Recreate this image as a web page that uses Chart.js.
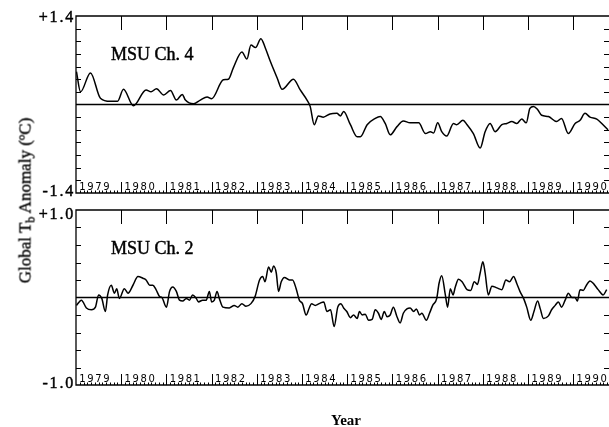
<!DOCTYPE html>
<html>
<head>
<meta charset="utf-8">
<script src="https://cdn.jsdelivr.net/npm/chart.js@4.4.1/dist/chart.umd.min.js"></script>
<style>
    body { margin: 0; background: #fff; overflow: hidden; }
    #wrap { position: relative; width: 609px; height: 427px; }
    #box4 { position: absolute; left: 0; top: 0; width: 609px; height: 200px; }
    #box2 { position: absolute; left: 0; top: 200px; width: 609px; height: 227px; }
    #ytitle {
        position: absolute; left: -95.7px; top: 191.5px; width: 240px; height: 17px;
        line-height: 17px; text-align: center; white-space: nowrap;
        font: 17px "Liberation Serif", serif; color: #000;
        -webkit-text-stroke: 0.35px #000;
        transform: rotate(-90deg); transform-origin: 50% 50%;
    }
    #ytitle sub { font-size: 12px; vertical-align: -4px; line-height: 0; }
    #ytitle sup { font-size: 11px; vertical-align: 6px; line-height: 0; }
    #xtitle {
        position: absolute; left: 331px; top: 412px; line-height: 15px;
        font: bold 15px "Liberation Serif", serif; color: #000;
    }
</style>
</head>
<body>
<div id="wrap">
    <div id="box4"><canvas id="ch4" width="609" height="200"></canvas></div>
    <div id="box2"><canvas id="ch2" width="609" height="227"></canvas></div>
    <div id="ytitle">Global T<sub>b</sub> Anomaly (<sup>o</sup>C)</div>
    <div id="xtitle">Year</div>
</div>
<script>
// MSU channel 4 (lower stratosphere) anomalies, degC
var ch4Years = [
    1979.01, 1979.10, 1979.32, 1979.54, 1979.76, 1979.92,
    1980.05, 1980.27, 1980.55, 1980.66, 1980.78, 1980.94,
    1981.09, 1981.22, 1981.35, 1981.42, 1981.60, 1981.75, 1981.90,
    1982.00, 1982.26, 1982.37, 1982.48, 1982.67, 1982.78, 1982.87, 1982.97,
    1983.09, 1983.19, 1983.30, 1983.45, 1983.56, 1983.81, 1983.96,
    1984.11, 1984.18, 1984.27, 1984.36, 1984.47, 1984.62, 1984.77, 1984.85, 1984.92,
    1985.07, 1985.22, 1985.29, 1985.44, 1985.62, 1985.73, 1985.84, 1985.95,
    1986.10, 1986.24, 1986.39, 1986.58, 1986.73, 1986.84, 1986.91,
    1987.00, 1987.09, 1987.20, 1987.35, 1987.42, 1987.56, 1987.65, 1987.79, 1987.94,
    1988.05, 1988.16, 1988.27, 1988.42, 1988.53, 1988.64, 1988.75, 1988.86, 1988.96,
    1989.04, 1989.12, 1989.21, 1989.30, 1989.45, 1989.63, 1989.74, 1989.89,
    1990.04, 1990.15, 1990.26, 1990.37, 1990.52, 1990.63, 1990.77
];
var ch4Values = [
    0.52, 0.20, 0.50, 0.10, 0.05, 0.05,
    0.24, -0.02, 0.23, 0.20, 0.25, 0.15,
    0.22, 0.07, 0.16, 0.07, 0.01, 0.07, 0.12,
    0.09, 0.39, 0.40, 0.58, 0.83, 0.72, 0.94, 0.90,
    1.04, 0.89, 0.68, 0.42, 0.24, 0.40, 0.23,
    0.07, -0.03, -0.32, -0.18, -0.20, -0.15, -0.14, -0.18, -0.11,
    -0.32, -0.51, -0.51, -0.32, -0.22, -0.19, -0.30, -0.48,
    -0.35, -0.26, -0.29, -0.29, -0.46, -0.43, -0.45,
    -0.29, -0.43, -0.50, -0.30, -0.32, -0.25, -0.32, -0.46, -0.69,
    -0.43, -0.30, -0.43, -0.32, -0.30, -0.27, -0.30, -0.23, -0.29,
    -0.06, -0.03, -0.08, -0.17, -0.19, -0.27, -0.22, -0.46,
    -0.30, -0.25, -0.14, -0.20, -0.23, -0.30, -0.40
];

// MSU channel 2 (mid troposphere) anomalies, degC
var ch2Years = [
    1979.01, 1979.12, 1979.23, 1979.34, 1979.43, 1979.50, 1979.57, 1979.65, 1979.70, 1979.78, 1979.85, 1979.90, 1979.96,
    1980.07, 1980.15, 1980.26, 1980.37, 1980.48, 1980.55, 1980.63, 1980.70, 1980.77, 1980.85, 1980.90,
    1981.00, 1981.07, 1981.14, 1981.22, 1981.29, 1981.36, 1981.44, 1981.51, 1981.58, 1981.66, 1981.71, 1981.80, 1981.88, 1981.95,
    1982.00, 1982.06, 1982.12, 1982.17, 1982.25, 1982.39, 1982.50, 1982.58, 1982.67, 1982.76, 1982.87, 1982.96,
    1983.06, 1983.13, 1983.18, 1983.26, 1983.32, 1983.37, 1983.43, 1983.48, 1983.54, 1983.61, 1983.72, 1983.79, 1983.87, 1983.94,
    1984.01, 1984.09, 1984.16, 1984.21, 1984.29, 1984.38, 1984.48, 1984.55, 1984.63, 1984.71, 1984.79, 1984.86, 1984.92, 1984.99,
    1985.07, 1985.14, 1985.22, 1985.27, 1985.33, 1985.40, 1985.47, 1985.55, 1985.62, 1985.69, 1985.75, 1985.82, 1985.88, 1985.95,
    1986.02, 1986.10, 1986.17, 1986.24, 1986.32, 1986.39, 1986.47, 1986.53, 1986.60, 1986.65, 1986.75, 1986.82, 1986.89, 1986.98,
    1987.03, 1987.09, 1987.17, 1987.22, 1987.28, 1987.34, 1987.39, 1987.46, 1987.54, 1987.65, 1987.73, 1987.81, 1987.88, 1987.94,
    1988.00, 1988.05, 1988.12, 1988.20, 1988.31, 1988.42, 1988.51, 1988.59, 1988.68, 1988.75, 1988.82, 1988.90, 1988.97,
    1989.06, 1989.13, 1989.21, 1989.27, 1989.34, 1989.45, 1989.52, 1989.60, 1989.67, 1989.74, 1989.82, 1989.89, 1989.97,
    1990.04, 1990.09, 1990.15, 1990.22, 1990.28, 1990.37, 1990.46, 1990.55, 1990.66, 1990.74
];
var ch2Values = [
    -0.09, -0.03, -0.12, -0.14, -0.11, 0.03, -0.01, -0.16, 0.03, 0.14, 0.05, 0.10, -0.01,
    0.10, 0.05, 0.14, 0.24, 0.22, 0.20, 0.14, 0.14, 0.09, 0.01, 0.00,
    -0.11, 0.07, 0.12, 0.07, -0.03, -0.04, -0.01, -0.03, 0.03, -0.01, -0.05, -0.03, -0.03, 0.07,
    -0.05, -0.03, 0.07, -0.01, -0.11, -0.12, -0.09, -0.11, -0.07, -0.10, -0.07, 0.01,
    0.20, 0.24, 0.18, 0.35, 0.29, 0.36, 0.28, 0.07, 0.18, 0.23, 0.20, 0.20, 0.10, -0.03,
    -0.07, -0.20, -0.12, -0.07, -0.09, -0.07, -0.05, -0.16, -0.14, -0.33, -0.11, -0.07, -0.12, -0.16,
    -0.23, -0.20, -0.24, -0.16, -0.20, -0.19, -0.26, -0.25, -0.14, -0.18, -0.25, -0.16, -0.22, -0.20,
    -0.11, -0.22, -0.29, -0.18, -0.13, -0.12, -0.16, -0.13, -0.20, -0.18, -0.26, -0.18, -0.09, -0.01,
    0.16, 0.25, 0.03, -0.11, 0.10, 0.03, 0.12, 0.21, 0.18, 0.09, 0.08, 0.18, 0.15, 0.28,
    0.41, 0.28, 0.03, 0.13, 0.11, 0.09, 0.20, 0.18, 0.24, 0.16, 0.07, -0.01, -0.11,
    -0.26, -0.16, -0.04, -0.13, -0.24, -0.21, -0.14, -0.09, -0.05, -0.11, -0.03, 0.05, 0.00,
    0.00, -0.04, 0.09, 0.08, 0.13, 0.19, 0.15, 0.09, 0.03, 0.09
];

var yearLabels = [1979, 1980, 1981, 1982, 1983, 1984, 1985, 1986, 1987, 1988, 1989, 1990];
var ch4Range = [-1.4, 1.4];
var ch2Range = [-1.0, 1.0];
var tickStep = 0.2;
var xStart = 1979;
var xEnd = 1990.79;

function fmt(v) {
    return (v > 0 ? '+' : '') + v.toFixed(1);
}

// text with a thin outline so the serif reads a bit heavier
function inkText(ctx, s, x, y) {
    ctx.fillText(s, x, y);
    ctx.strokeText(s, x, y);
}

// frame, inside ticks, year strip and panel name
var panelFrame = {
    id: 'panelFrame',
    afterDatasetsDraw: function(chart, args, opts) {
        var ctx = chart.ctx;
        var a = chart.chartArea;
        var xs = chart.scales.x;
        var ys = chart.scales.y;
        var y0 = ys.getPixelForValue(0);
        ctx.save();
        ctx.strokeStyle = '#000';
        ctx.fillStyle = '#000';

        ctx.lineWidth = 1.3;
        ctx.beginPath();
        ctx.moveTo(a.right, a.top);
        ctx.lineTo(a.left, a.top);
        ctx.lineTo(a.left, a.bottom);
        ctx.lineTo(a.right, a.bottom);
        ctx.moveTo(a.left, y0);
        ctx.lineTo(a.right, y0);
        ctx.stroke();

        ctx.lineWidth = 1;
        ctx.beginPath();
        // left / right minor ticks
        for (var v = ys.min + tickStep; v < ys.max - 0.01; v += tickStep) {
            if (Math.abs(v) < 0.01) continue;
            var py = Math.round(ys.getPixelForValue(v)) + 0.5;
            ctx.moveTo(a.left, py); ctx.lineTo(a.left + 5, py);
            ctx.moveTo(a.right, py); ctx.lineTo(a.right - 5, py);
        }
        // year ticks on top and bottom
        yearLabels.forEach(function(yr) {
            if (yr === xStart) return;
            var px = Math.round(xs.getPixelForValue(yr)) + 0.5;
            ctx.moveTo(px, a.top); ctx.lineTo(px, a.top + 14);
            ctx.moveTo(px, a.bottom); ctx.lineTo(px, a.bottom - 11);
        });
        // monthly ticks
        for (var m = 1; xStart + m / 12 < xEnd; m++) {
            var mx = Math.round(xs.getPixelForValue(xStart + m / 12)) + 0.5;
            ctx.moveTo(mx, a.bottom); ctx.lineTo(mx, a.bottom - 2.5);
        }
        ctx.stroke();

        // year names along the bottom
        ctx.font = '10px "DejaVu Sans"';
        ctx.letterSpacing = '1.6px';
        ctx.textAlign = 'left';
        ctx.textBaseline = 'alphabetic';
        yearLabels.forEach(function(yr) {
            ctx.fillText(String(yr), xs.getPixelForValue(yr) + 3.3, a.bottom - 3.5);
        });

        ctx.lineWidth = 0.45;
        // axis end values
        ctx.font = '16px "Liberation Serif"';
        ctx.letterSpacing = '1.8px';
        ctx.textAlign = 'right';
        ctx.textBaseline = 'middle';
        inkText(ctx, fmt(ys.max), a.left - 1, a.top + opts.topShift);
        inkText(ctx, fmt(ys.min), a.left - 1, a.bottom - 1);

        // panel name
        ctx.font = '18px "Liberation Serif"';
        ctx.letterSpacing = '0px';
        ctx.textAlign = 'left';
        ctx.textBaseline = 'alphabetic';
        inkText(ctx, opts.title, a.left + 35, a.top + 44);
        ctx.restore();
    }
};

function makePanel(id, years, values, range, pad, title, topShift) {
    var points = years.map(function(t, i) {
        return { x: t, y: values[i] };
    });
    return new Chart(document.getElementById(id), {
        type: 'line',
        data: {
            datasets: [{
                data: points,
                borderColor: '#000',
                borderWidth: 1.5,
                pointRadius: 0,
                fill: false,
                cubicInterpolationMode: 'monotone'
            }]
        },
        options: {
            responsive: false,
            animation: false,
            layout: { padding: pad },
            scales: {
                x: { type: 'linear', min: xStart, max: xEnd, display: false },
                y: { min: range[0], max: range[1], display: false }
            },
            plugins: {
                legend: { display: false },
                tooltip: { enabled: false },
                panelFrame: { title: title, topShift: topShift }
            }
        },
        plugins: [panelFrame]
    });
}

makePanel('ch4', ch4Years, ch4Values, ch4Range, { left: 76, top: 16, right: 0, bottom: 7 }, 'MSU Ch. 4', 1.5);
makePanel('ch2', ch2Years, ch2Values, ch2Range, { left: 76, top: 10, right: 0, bottom: 42 }, 'MSU Ch. 2', 4.5);
</script>
</body>
</html>
